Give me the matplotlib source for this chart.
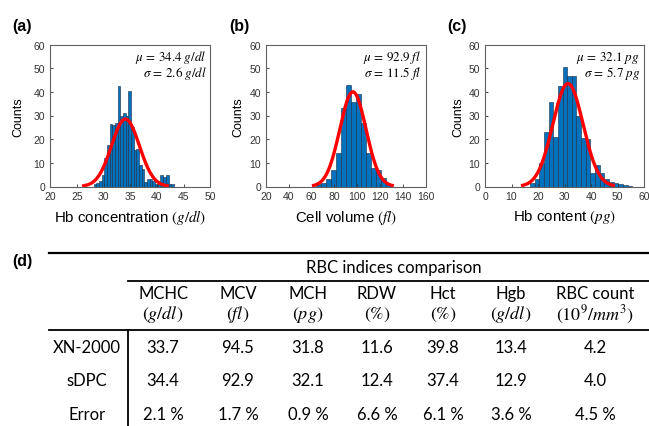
import numpy as np
import matplotlib
matplotlib.use('Agg')
import matplotlib.pyplot as plt

plt.rcParams['font.family'] = ['Liberation Sans', 'DejaVu Sans']
plt.rcParams['mathtext.fontset'] = 'stix'

# Histogramas (centro de clase, altura)
hb_conc_x = [28.4, 28.9, 29.4, 29.9, 30.4, 30.9, 31.4, 31.9, 32.4, 32.9,
             33.4, 33.9, 34.4, 34.9, 35.4, 35.9, 36.4, 36.9, 37.4, 37.9,
             38.4, 38.9, 39.4, 39.9, 40.4, 40.9, 41.4, 41.9, 42.4, 42.9]
hb_conc_n = [1, 1.5, 2.5, 5, 12, 17.5, 26.5, 26, 27, 42.5,
             30, 31, 30, 40.5, 25, 15.5, 16, 9, 7.5, 2,
             3, 3, 2.5, 1, 1, 5, 4, 5, 1, 1]
hb_conc_w = 0.5

cell_vol_x = [65.8, 70.2, 74.6, 79.0, 83.4, 87.8, 92.2, 96.6, 101.0, 105.4,
              109.8, 114.2, 118.6, 123.0, 127.4]
cell_vol_n = [1, 1.5, 3, 7, 14, 33, 43, 35.5, 39, 27, 14, 8, 7, 3.5, 1]
cell_vol_w = 4.4

hb_cont_x = [17.9, 19.65, 21.4, 23.15, 24.9, 26.65, 28.4, 30.15, 31.9, 33.65,
             35.4, 37.15, 38.9, 40.65, 42.4, 44.15, 45.9, 47.65, 49.4, 51.15,
             52.9, 54.65]
hb_cont_n = [1.5, 3, 10, 23, 35.5, 21, 42.5, 50.5, 46.5, 46.5,
             30, 20.5, 20, 5.5, 9, 5.5, 3, 2, 1.5, 1, 0.5, 0.3]
hb_cont_w = 1.75

# Ajuste gaussiano (centro, sigma, pico) como se ve en la figura
fit_center = [34.1, 96.3, 31.3]
fit_sigma = [2.6, 11.5, 5.7]
fit_peak = [28.5, 40, 43.5]

fit_labels = [(r'$\mu\,=\,34.4\ g/dl$', r'$\sigma\,=\,2.6\ g/dl$'),
              (r'$\mu\,=\,92.9\ fl$', r'$\sigma\,=\,11.5\ fl$'),
              (r'$\mu\,=\,32.1\ pg$', r'$\sigma\,=\,5.7\ pg$')]
xlabels = [r'Hb concentration $(g/dl)$', r'Cell volume $(fl)$', r'Hb content $(pg)$']
xlims = [(20, 50), (20, 160), (0, 60)]
xsteps = [5, 20, 10]
panel_tags = ['(a)', '(b)', '(c)']

# Tabla (d)
table_title = 'RBC indices comparison'
col_names = ['MCHC', 'MCV', 'MCH', 'RDW', 'Hct', 'Hgb', 'RBC count']
col_units = [r'$(g/dl)$', r'$(fl)$', r'$(pg)$', r'$(\%)$', r'$(\%)$', r'$(g/dl)$',
             r'$(10^9/mm^3)$']
row_names = ['XN-2000', 'sDPC', 'Error']
xn2000 = ['33.7', '94.5', '31.8', '11.6', '39.8', '13.4', '4.2']
sdpc = ['34.4', '92.9', '32.1', '12.4', '37.4', '12.9', '4.0']
error = ['2.1 %', '1.7 %', '0.9 %', '6.6 %', '6.1 %', '3.6 %', '4.5 %']

W, H = 649, 427
fig = plt.figure(figsize=(W / 100, H / 100), dpi=100)

# posiciones de los ejes en pixeles (izq, der)
ax_px = [(50, 210.5), (266, 425.5), (485, 644)]
ax_top, ax_bot = 45.5, 187.5
ylabel_x = [18, 238, 458]
tag_x = [12, 229, 447]

hists = [(hb_conc_x, hb_conc_n, hb_conc_w),
         (cell_vol_x, cell_vol_n, cell_vol_w),
         (hb_cont_x, hb_cont_n, hb_cont_w)]

for i in range(3):
    l, r = ax_px[i]
    ax = fig.add_axes([l / W, 1 - ax_bot / H, (r - l) / W, (ax_bot - ax_top) / H])
    xs, ns, w = hists[i]
    ax.bar(xs, ns, width=w, color='#0072BD', edgecolor='#1c2a45', linewidth=0.4)
    c, s, p = fit_center[i], fit_sigma[i], fit_peak[i]
    xx = np.linspace(c - 3 * s, c + 3 * s, 200)
    ax.plot(xx, p * np.exp(-(xx - c) ** 2 / (2 * s ** 2)), color='red', lw=2.4)
    ax.set_xlim(*xlims[i])
    ax.set_ylim(0, 60)
    ax.set_xticks(np.arange(xlims[i][0], xlims[i][1] + 1, xsteps[i]))
    ax.set_yticks(np.arange(0, 61, 10))
    ax.tick_params(direction='in', length=2.5, width=0.6, labelsize=7.5,
                   colors='#333333', pad=3.5)
    for sp in ax.spines.values():
        sp.set_color('#606060')
        sp.set_linewidth(0.8)
    ax.set_xlabel(xlabels[i], fontsize=10.8, labelpad=4)
    ax.text(0.975, 0.915, fit_labels[i][0], transform=ax.transAxes,
            ha='right', va='center', fontsize=9.4)
    ax.text(0.975, 0.80, fit_labels[i][1], transform=ax.transAxes,
            ha='right', va='center', fontsize=9.4)
    fig.text(ylabel_x[i] / W, 1 - 117 / H, 'Counts', rotation=90,
             ha='center', va='center', fontsize=9)
    fig.text(tag_x[i] / W, 1 - 26 / H, panel_tags[i], fontsize=11.5,
             fontweight='bold', ha='left', va='center')

# tabla sobre un eje en coordenadas de pixel
tab = fig.add_axes([0, 0, 1, 1])
tab.set_xlim(0, W)
tab.set_ylim(H, 0)
tab.axis('off')

tf = ['Lato', 'DejaVu Sans']
fs = 12
tab.text(12, 262, '(d)', fontsize=11.5, fontweight='bold', ha='left', va='center',
         family=['Liberation Sans', 'DejaVu Sans'])
tab.plot([49, 649], [253.5, 253.5], color='black', lw=1.6)
tab.plot([128, 649], [282, 282], color='black', lw=1.3)
tab.plot([49, 649], [331, 331], color='black', lw=1.3)
tab.plot([128, 128], [331, 427], color='black', lw=1.3)
tab.text(394, 268, table_title, fontsize=fs, ha='center', va='center', family=tf)

col_x = [163, 238, 308, 377, 443, 511, 595]
for j in range(len(col_names)):
    tab.text(col_x[j], 294, col_names[j], fontsize=fs, ha='center', va='center', family=tf)
    tab.text(col_x[j], 315, col_units[j], fontsize=fs + 1, ha='center', va='center')

row_y = [348, 381.5, 415]
rows = [xn2000, sdpc, error]
for k in range(len(row_names)):
    tab.text(87, row_y[k], row_names[k], fontsize=fs, ha='center', va='center', family=tf)
    for j in range(len(col_names)):
        tab.text(col_x[j], row_y[k], rows[k][j], fontsize=fs, ha='center',
                 va='center', family=tf)

fig.savefig('out.png', dpi=100)
